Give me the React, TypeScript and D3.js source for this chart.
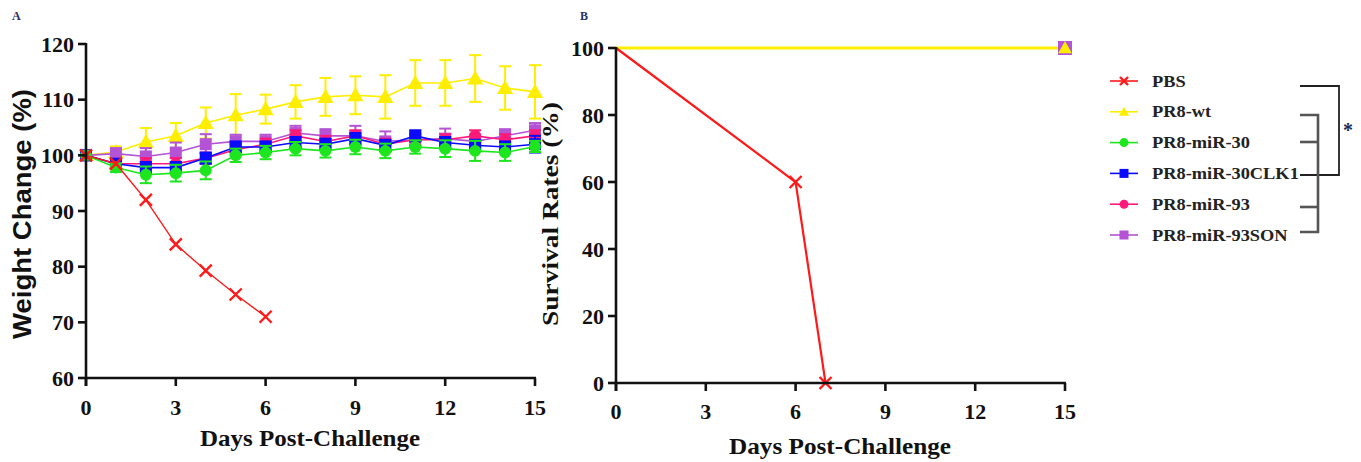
import React from "react";
import * as d3 from "d3";

// ---------- DATA ----------
const DAYS = [0, 1, 2, 3, 4, 5, 6, 7, 8, 9, 10, 11, 12, 13, 14, 15];
const PBS_DAYS = [0, 1, 2, 3, 4, 5, 6];
const PBS_WEIGHT = [100, 98.5, 92, 84, 79.3, 75, 71];

const WT_WEIGHT = [100, 100.6, 102.4, 103.5, 105.8, 107.2, 108.3, 109.6, 110.5, 110.8, 110.5, 113, 113, 113.8, 112.1, 111.4];
const WT_ERR = [0, 1, 2.5, 2.3, 2.8, 3.8, 2.6, 3, 3.4, 3.4, 3.9, 4.1, 4.1, 4.2, 3.9, 4.8];

const MIR30_WEIGHT = [100, 97.8, 96.5, 96.8, 97.3, 100, 100.5, 101.2, 100.8, 101.5, 100.8, 101.5, 101.2, 100.8, 100.5, 101.6];
const MIR30_ERR = [0, 0.8, 1.5, 1.5, 1.6, 1.2, 1.2, 1.2, 1.2, 1.3, 1.3, 1.2, 1.5, 1.8, 1.5, 1];

const CLK1_WEIGHT = [100, 98.5, 97.8, 97.8, 99.5, 101.5, 101.5, 102.3, 102, 103, 101.8, 103.5, 102.3, 101.8, 101.5, 102];
const CLK1_ERR = [0, 0.8, 1, 1, 1, 1, 1, 1, 1, 1, 1, 1, 1, 1, 1, 1.5];

const MIR93_WEIGHT = [100, 98.5, 98.5, 98.5, 99.5, 101, 102, 103.5, 102.5, 103.5, 102, 102.8, 102.8, 103.5, 102.8, 103.5];
const MIR93_ERR = [0, 0.8, 1, 1, 1, 1, 1, 1, 1, 1, 1, 1, 1, 1, 1, 1];

const SON_WEIGHT = [100, 100.3, 99.8, 100.5, 102, 102.5, 102.5, 104, 103.5, 103.5, 102.5, 102.8, 103, 102.5, 103.5, 104.5];
const SON_ERR = [0, 1, 1.5, 1.8, 1.8, 1.2, 1.2, 1.3, 1.2, 1.8, 1.8, 1.2, 1.8, 1.2, 1.2, 1.3];

const SURV_PBS_DAYS = [0, 6, 7];
const SURV_PBS = [100, 60, 0];
const SURV_OTHER_DAYS = [0, 15];
const SURV_OTHER = [100, 100];

const X_TICKS = [0, 3, 6, 9, 12, 15];
const Y_TICKS_A = [60, 70, 80, 90, 100, 110, 120];
const Y_TICKS_B = [0, 20, 40, 60, 80, 100];

const GROUPS = ["PBS", "PR8-wt", "PR8-miR-30", "PR8-miR-30CLK1", "PR8-miR-93", "PR8-miR-93SON"];
const COLORS = ["#ff1a1a", "#ffee00", "#1ee61e", "#0a0aff", "#ff1a7a", "#b453d6"];
const SHAPES = ["cross", "triangle", "circle", "square", "circle", "square"];

// ---------- HELPERS ----------
const SERIF = "'Liberation Serif', 'Times New Roman', serif";
const SANS = "'Liberation Sans', Arial, sans-serif";

function Marker({ shape, x, y, color, size }: { shape: string; x: number; y: number; color: string; size: number }) {
  const h = size / 2;
  if (shape === "cross") {
    return (
      <g stroke={color} strokeWidth={2.4}>
        <line x1={x - h} y1={y - h} x2={x + h} y2={y + h} />
        <line x1={x - h} y1={y + h} x2={x + h} y2={y - h} />
      </g>
    );
  }
  if (shape === "triangle") {
    const t = h * 1.15;
    return <path d={`M${x},${y - t} L${x + t},${y + t * 0.75} L${x - t},${y + t * 0.75} Z`} fill={color} />;
  }
  if (shape === "circle") {
    return <circle cx={x} cy={y} r={h} fill={color} />;
  }
  return <rect x={x - h} y={y - h} width={size} height={size} fill={color} />;
}

export default function App() {
  // Panel A scales
  const xA = d3.scaleLinear().domain([0, 15]).range([86, 535]);
  const yA = d3.scaleLinear().domain([60, 120]).range([378, 44]);
  // Panel B scales
  const xB = d3.scaleLinear().domain([0, 15]).range([616, 1065]);
  const yB = d3.scaleLinear().domain([0, 100]).range([383, 48]);

  const weightSeries = [
    { i: 1, vals: WT_WEIGHT, err: WT_ERR },
    { i: 5, vals: SON_WEIGHT, err: SON_ERR },
    { i: 4, vals: MIR93_WEIGHT, err: MIR93_ERR },
    { i: 3, vals: CLK1_WEIGHT, err: CLK1_ERR },
    { i: 2, vals: MIR30_WEIGHT, err: MIR30_ERR },
  ];

  const lineA = d3
    .line<number>()
    .x((_, k) => xA(DAYS[k]))
    .y((v) => yA(v));

  const pbsLineA = d3
    .line<number>()
    .x((_, k) => xA(PBS_DAYS[k]))
    .y((v) => yA(v));

  const pbsLineB = d3
    .line<number>()
    .x((_, k) => xB(SURV_PBS_DAYS[k]))
    .y((v) => yB(v));
  const otherLineB = d3
    .line<number>()
    .x((_, k) => xB(SURV_OTHER_DAYS[k]))
    .y((v) => yB(v));

  const tickFont = { fontFamily: SERIF, fontWeight: 700, fontSize: 22, fill: "#111" } as const;

  const legendY = d3.scaleLinear().domain([0, 5]).range([81, 235]);

  return (
    <svg width={1361} height={462} style={{ position: "absolute", left: 0, top: 0, background: "#fff" }}>
      {/* Panel labels */}
      <text x={12} y={20} fontFamily={SERIF} fontWeight={700} fontSize={12} fill="#27306a">A</text>
      <text x={580} y={20} fontFamily={SERIF} fontWeight={700} fontSize={12} fill="#27306a">B</text>

      {/* ---------- Panel A ---------- */}
      {weightSeries.map((s) => (
        <g key={s.i}>
          <path d={lineA(s.vals) || ""} fill="none" stroke={COLORS[s.i]} strokeWidth={1.6} />
          {s.vals.map((v, k) =>
            s.err[k] > 0 ? (
              <g key={k} stroke={COLORS[s.i]} strokeWidth={2}>
                <line x1={xA(DAYS[k])} x2={xA(DAYS[k])} y1={yA(v - s.err[k])} y2={yA(v + s.err[k])} />
                <line x1={xA(DAYS[k]) - 6} x2={xA(DAYS[k]) + 6} y1={yA(v + s.err[k])} y2={yA(v + s.err[k])} />
                <line x1={xA(DAYS[k]) - 6} x2={xA(DAYS[k]) + 6} y1={yA(v - s.err[k])} y2={yA(v - s.err[k])} />
              </g>
            ) : null
          )}
          {s.vals.map((v, k) => (
            <Marker key={"m" + k} shape={SHAPES[s.i]} x={xA(DAYS[k])} y={yA(v)} color={COLORS[s.i]} size={s.i === 1 ? 14 : 12} />
          ))}
        </g>
      ))}
      <path d={pbsLineA(PBS_WEIGHT) || ""} fill="none" stroke={COLORS[0]} strokeWidth={1.4} />
      {PBS_WEIGHT.map((v, k) => (
        <Marker key={k} shape="cross" x={xA(PBS_DAYS[k])} y={yA(v)} color={COLORS[0]} size={12} />
      ))}

      {/* axes A */}
      <g stroke="#111" strokeWidth={2.6}>
        <line x1={xA(0)} x2={xA(0)} y1={yA(120) - 1} y2={yA(60) + 8} />
        <line x1={xA(0) - 1} x2={xA(15) + 1} y1={yA(60)} y2={yA(60)} />
        {Y_TICKS_A.map((t) => (
          <line key={t} x1={xA(0) - 8} x2={xA(0)} y1={yA(t)} y2={yA(t)} />
        ))}
        {X_TICKS.map((t) => (
          <line key={t} x1={xA(t)} x2={xA(t)} y1={yA(60)} y2={yA(60) + 8} />
        ))}
      </g>
      {Y_TICKS_A.map((t) => (
        <text key={t} x={xA(0) - 12} y={yA(t) + 7.5} textAnchor="end" {...tickFont}>{t}</text>
      ))}
      {X_TICKS.map((t) => (
        <text key={t} x={xA(t)} y={yA(60) + 37} textAnchor="middle" {...tickFont}>{t}</text>
      ))}
      <text x={310} y={446} textAnchor="middle" fontFamily={SERIF} fontWeight={700} fontSize={24}
        textLength={220} lengthAdjust="spacingAndGlyphs" fill="#111">
        Days Post-Challenge
      </text>
      <text
        transform={`translate(31,214) rotate(-90)`}
        textAnchor="middle"
        fontFamily={SANS}
        fontWeight={700}
        fontSize={25}
        textLength={250}
        lengthAdjust="spacingAndGlyphs"
        fill="#111"
      >
        Weight Change (%)
      </text>

      {/* ---------- Panel B ---------- */}
      <path d={otherLineB(SURV_OTHER) || ""} fill="none" stroke={COLORS[1]} strokeWidth={3} />
      <path d={pbsLineB(SURV_PBS) || ""} fill="none" stroke={COLORS[0]} strokeWidth={2.2} />
      {SURV_PBS.map((v, k) =>
        k > 0 ? <Marker key={k} shape="cross" x={xB(SURV_PBS_DAYS[k])} y={yB(v)} color={COLORS[0]} size={12} /> : null
      )}
      {[3, 5, 1].map((i) => (
        <Marker key={i} shape={SHAPES[i]} x={xB(SURV_OTHER_DAYS[1])} y={yB(SURV_OTHER[1])} color={COLORS[i]} size={i === 1 ? 12 : 14} />
      ))}

      <g stroke="#111" strokeWidth={2.6}>
        <line x1={xB(0)} x2={xB(0)} y1={yB(100) - 1} y2={yB(0) + 8} />
        <line x1={xB(0) - 1} x2={xB(15) + 1} y1={yB(0)} y2={yB(0)} />
        {Y_TICKS_B.map((t) => (
          <line key={t} x1={xB(0) - 8} x2={xB(0)} y1={yB(t)} y2={yB(t)} />
        ))}
        {X_TICKS.map((t) => (
          <line key={t} x1={xB(t)} x2={xB(t)} y1={yB(0)} y2={yB(0) + 8} />
        ))}
      </g>
      {Y_TICKS_B.map((t) => (
        <text key={t} x={xB(0) - 12} y={yB(t) + 7.5} textAnchor="end" {...tickFont}>{t}</text>
      ))}
      {X_TICKS.map((t) => (
        <text key={t} x={xB(t)} y={yB(0) + 36} textAnchor="middle" {...tickFont}>{t}</text>
      ))}
      <text x={840} y={454} textAnchor="middle" fontFamily={SERIF} fontWeight={700} fontSize={24}
        textLength={222} lengthAdjust="spacingAndGlyphs" fill="#111">
        Days Post-Challenge
      </text>
      <text
        transform={`translate(558,214) rotate(-90)`}
        textAnchor="middle"
        fontFamily={SERIF}
        fontWeight={700}
        fontSize={24}
        textLength={224}
        lengthAdjust="spacingAndGlyphs"
        fill="#111"
      >
        Survival Rates (%)
      </text>

      {/* ---------- Legend ---------- */}
      {GROUPS.map((g, i) => (
        <g key={g}>
          <line x1={1110} x2={1138} y1={legendY(i)} y2={legendY(i)} stroke={COLORS[i]} strokeWidth={1.6} />
          <Marker shape={SHAPES[i]} x={1124} y={legendY(i)} color={COLORS[i]} size={i === 0 ? 8 : 9} />
          <g transform={`translate(1152,${legendY(i) + 5.5}) scale(1.08,1)`}>
            <text x={0} y={0} fontFamily={SERIF} fontWeight={700} fontSize={17} fill="#222">
              {g}
            </text>
          </g>
        </g>
      ))}
      {/* significance brackets */}
      <path d={`M1300,86 H1339 V175 H1300`} fill="none" stroke="#222" strokeWidth={1.8} />
      <path d={`M1300,115 H1318 V232 H1300`} fill="none" stroke="#555" strokeWidth={2.6} />
      <line x1={1300} x2={1318} y1={142} y2={142} stroke="#555" strokeWidth={2.6} />
      <line x1={1300} x2={1318} y1={207} y2={207} stroke="#555" strokeWidth={2.6} />
      <text x={1348} y={137} textAnchor="middle" fontFamily={SERIF} fontWeight={700} fontSize={20} fill="#1d2a55">*</text>
    </svg>
  );
}
